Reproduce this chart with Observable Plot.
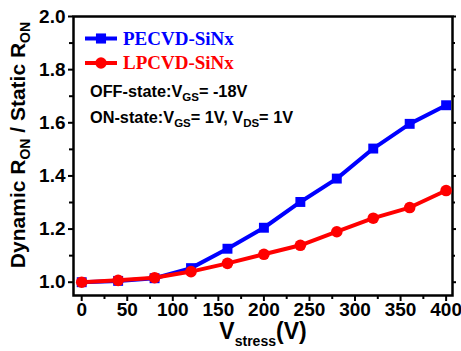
<!DOCTYPE html>
<html><head><meta charset="utf-8">
<script src="https://cdn.jsdelivr.net/npm/d3@7"></script>
<script src="https://cdn.jsdelivr.net/npm/@observablehq/plot@0.6"></script>
<style>body{margin:0;background:#fff;} svg{display:block}</style>
</head><body><div id="chart"></div>
<script>
const vstress = [0, 40, 80, 120, 160, 200, 240, 280, 320, 360, 400];
const pecvd = [1.0, 1.005, 1.015, 1.053, 1.126, 1.205, 1.302, 1.39, 1.503, 1.596, 1.666];
const lpcvd = [1.0, 1.007, 1.017, 1.04, 1.071, 1.105, 1.139, 1.19, 1.241, 1.281, 1.345];
const seriesNames = ["PECVD-SiNx", "LPCVD-SiNx"];
const seriesColors = ["#0000ff", "#ff0000"];
const xTicks = [0, 50, 100, 150, 200, 250, 300, 350, 400];
const xMinor = [25, 75, 125, 175, 225, 275, 325, 375];
const yTicks = [1.0, 1.2, 1.4, 1.6, 1.8, 2.0];
const yMinor = [1.1, 1.3, 1.5, 1.7, 1.9];

const pRows = vstress.map((v, i) => ({v, r: pecvd[i]}));
const lRows = vstress.map((v, i) => ({v, r: lpcvd[i]}));

const sans = "'Liberation Sans', Arial, sans-serif";
const serif = "'Liberation Serif', 'Times New Roman', serif";

const plot = Plot.plot({
  width: 461, height: 351,
  marginLeft: 73, marginRight: 9, marginTop: 16, marginBottom: 56,
  style: {fontFamily: sans, fontWeight: "bold", fontSize: "19px", background: "#fff", color: "#000", overflow: "visible"},
  x: {domain: [-9, 407]},
  y: {domain: [0.95, 2.0]},
  marks: [
    Plot.axisX(xTicks, {anchor: "bottom", tickSize: 6, tickPadding: 1, strokeWidth: 2, fontSize: 19, fontWeight: "bold", label: null, tickFormat: d => String(d)}),
    Plot.axisX(xMinor, {anchor: "bottom", tickSize: 4, strokeWidth: 2, text: null, label: null}),
    Plot.axisY(yTicks, {anchor: "left", tickSize: 5, tickPadding: 3, strokeWidth: 2, fontSize: 19, fontWeight: "bold", label: null, tickFormat: d3.format(".1f")}),
    Plot.axisY(yMinor, {anchor: "left", tickSize: 4, strokeWidth: 2, text: null, label: null}),
    Plot.axisY(yTicks, {anchor: "right", tickSize: 3, strokeWidth: 2, text: null, label: null}),
    Plot.axisY(yMinor, {anchor: "right", tickSize: 2, strokeWidth: 2, text: null, label: null}),
    Plot.frame({stroke: "#000", strokeWidth: 2.5}),
    Plot.line(pRows, {x: "v", y: "r", stroke: seriesColors[0], strokeWidth: 4}),
    Plot.dot(pRows, {x: "v", y: "r", symbol: "square", r: 5.6, fill: seriesColors[0], stroke: "none"}),
    Plot.line(lRows, {x: "v", y: "r", stroke: seriesColors[1], strokeWidth: 4}),
    Plot.dot(lRows, {x: "v", y: "r", symbol: "circle", r: 5.8, fill: seriesColors[1], stroke: "none"})
  ]
});

const svg = d3.select(plot);

// Legend
const legend = [
  {name: seriesNames[0], color: seriesColors[0], sym: d3.symbolSquare, y: 38.5, ty: 44.5},
  {name: seriesNames[1], color: seriesColors[1], sym: d3.symbolCircle, y: 63, ty: 69}
];
const lg = svg.append("g").attr("text-anchor", "start");
legend.forEach(d => {
  lg.append("line").attr("x1", 85).attr("x2", 117).attr("y1", d.y).attr("y2", d.y)
    .attr("stroke", d.color).attr("stroke-width", 4);
  lg.append("path").attr("d", d3.symbol(d.sym, Math.PI * 5.7 * 5.7)()).attr("transform", `translate(101,${d.y})`)
    .attr("fill", d.color);
  lg.append("text").attr("x", 123).attr("y", d.ty).attr("fill", d.color).attr("text-anchor", "start")
    .attr("font-family", serif).attr("font-weight", "bold").attr("font-size", 19).text(d.name);
});

// Annotations
function subText(g, x, y, parts, size, anchor) {
  const t = g.append("text").attr("x", x).attr("y", y).attr("font-family", sans).attr("font-weight", "bold")
    .attr("font-size", size).attr("fill", "#000").attr("text-anchor", anchor || "start");
  parts.forEach(p => {
    const s = t.append("tspan").text(p.t);
    if (p.size) s.attr("font-size", p.size);
    if (p.dy) s.attr("dy", p.dy);
  });
  return t;
}
const ag = svg.append("g");
subText(ag, 90, 97, [{t: "OFF-state:V"}, {t: "GS", size: 11.5, dy: 4}, {t: "= -18V", dy: -4}], 16.3);
subText(ag, 90, 123, [{t: "ON-state:V"}, {t: "GS", size: 11.5, dy: 4}, {t: "= 1V, V", dy: -4}, {t: "DS", size: 11.5, dy: 4}, {t: "= 1V", dy: -4}], 16.3);

// Axis titles
subText(svg, 263, 338.5, [{t: "V"}, {t: "stress", size: 14, dy: 7}, {t: "(V)", dy: -7}], 23, "middle");
const yl = subText(svg, 0, 0, [{t: "Dynamic R"}, {t: "ON", size: 14, dy: 5}, {t: " / Static R", dy: -5}, {t: "ON", size: 14, dy: 5}], 21, "middle");
yl.attr("transform", "translate(25,145) rotate(-90)");

document.getElementById("chart").appendChild(plot);
</script>
</body></html>
